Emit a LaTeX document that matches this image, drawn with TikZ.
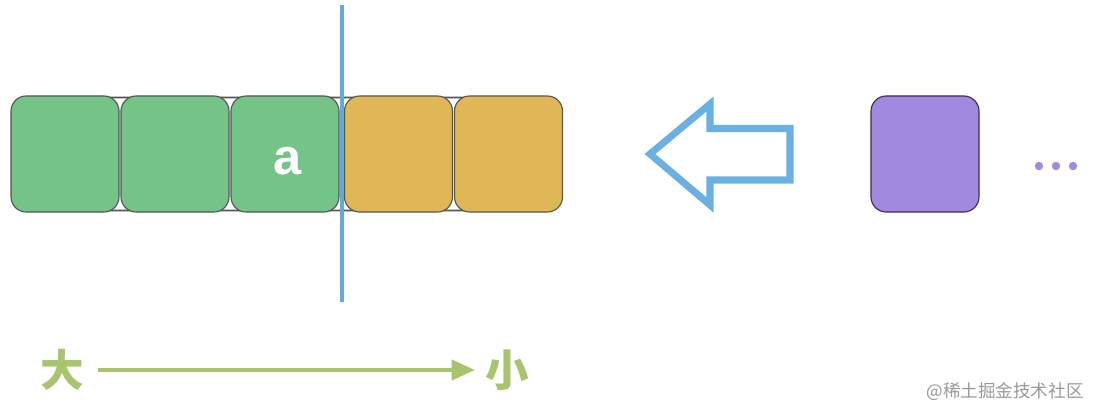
\documentclass[tikz,border=0pt]{standalone}
\usepackage{fontspec}
\setsansfont{Liberation Sans}
\newfontfamily\cjk{Noto Sans CJK SC}
\usetikzlibrary{arrows.meta}
\definecolor{cellgreen}{HTML}{74C387}
\definecolor{cellorange}{HTML}{DFB757}
\definecolor{cellpurple}{HTML}{A189E0}
\definecolor{cutblue}{HTML}{64A8DC}
\definecolor{arrowblue}{HTML}{6AB0E2}
\definecolor{scalegreen}{HTML}{A9C46C}
\definecolor{edgegray}{HTML}{555555}
\begin{document}
\begin{tikzpicture}[x=0.025cm, y=-0.025cm,
  cell/.style={draw=edgegray, line width=0.8pt, rounded corners=0.38cm, minimum width=2.7cm, minimum height=2.9cm, inner sep=0pt},
  scalelabel/.style={font=\cjk\bfseries\fontsize{31}{31}\selectfont, text=scalegreen, inner sep=0pt}]
  \useasboundingbox (0,0) rectangle (1100,420);
  % queue of cells, backing bar first
  \draw[edgegray, line width=1.4pt, fill=white, rounded corners=0.38cm] (12,97.5) rectangle (561,210.5);
  \node[cell, fill=cellgreen] (g1) at (65,154) {};
  \node[cell, fill=cellgreen] (g2) at (175,154) {};
  \node[cell, fill=cellgreen] (g3) at (285,154) {};
  \node[text=white, font=\sffamily\bfseries\fontsize{36}{36}\selectfont, inner sep=0pt] (akey) at (288,161) {a};
  \node[cell, fill=cellorange] (o1) at (398.5,154) {};
  \node[cell, fill=cellorange] (o2) at (508.5,154) {};
  % cut line
  \coordinate (cuttop) at (342,5);
  \coordinate (cutbot) at (342,302);
  \draw[cutblue, line width=2.2pt] (cuttop) -- (cutbot);
  % hollow arrow
  \draw[arrowblue, line width=5pt, line join=miter] (650,154) -- (710,104) -- (710,128.5) -- (790,128.5) -- (790,180) -- (710,180) -- (710,205) -- cycle;
  % incoming cell
  \node[cell, draw=black!65!cellpurple, fill=cellpurple] (p1) at (925,154) {};
  \foreach \dx in {1039,1056,1073}
    \fill[cellpurple] (\dx,166) circle (4.2);
  % order scale
  \node[scalelabel] (big) at (62,370) {大};
  \node[scalelabel] (small) at (507,370) {小};
  \draw[scalegreen, line width=2.8pt, -{Triangle[length=0.58cm, width=0.5cm]}, shorten <=0.35cm, shorten >=0.25cm] (big) -- (small);
  % watermark
  \node[font=\cjk\fontsize{12.5}{12.5}\selectfont, text=black!40] (mark) at (1005,392) {@稀土掘金技术社区};
\end{tikzpicture}
\end{document}
